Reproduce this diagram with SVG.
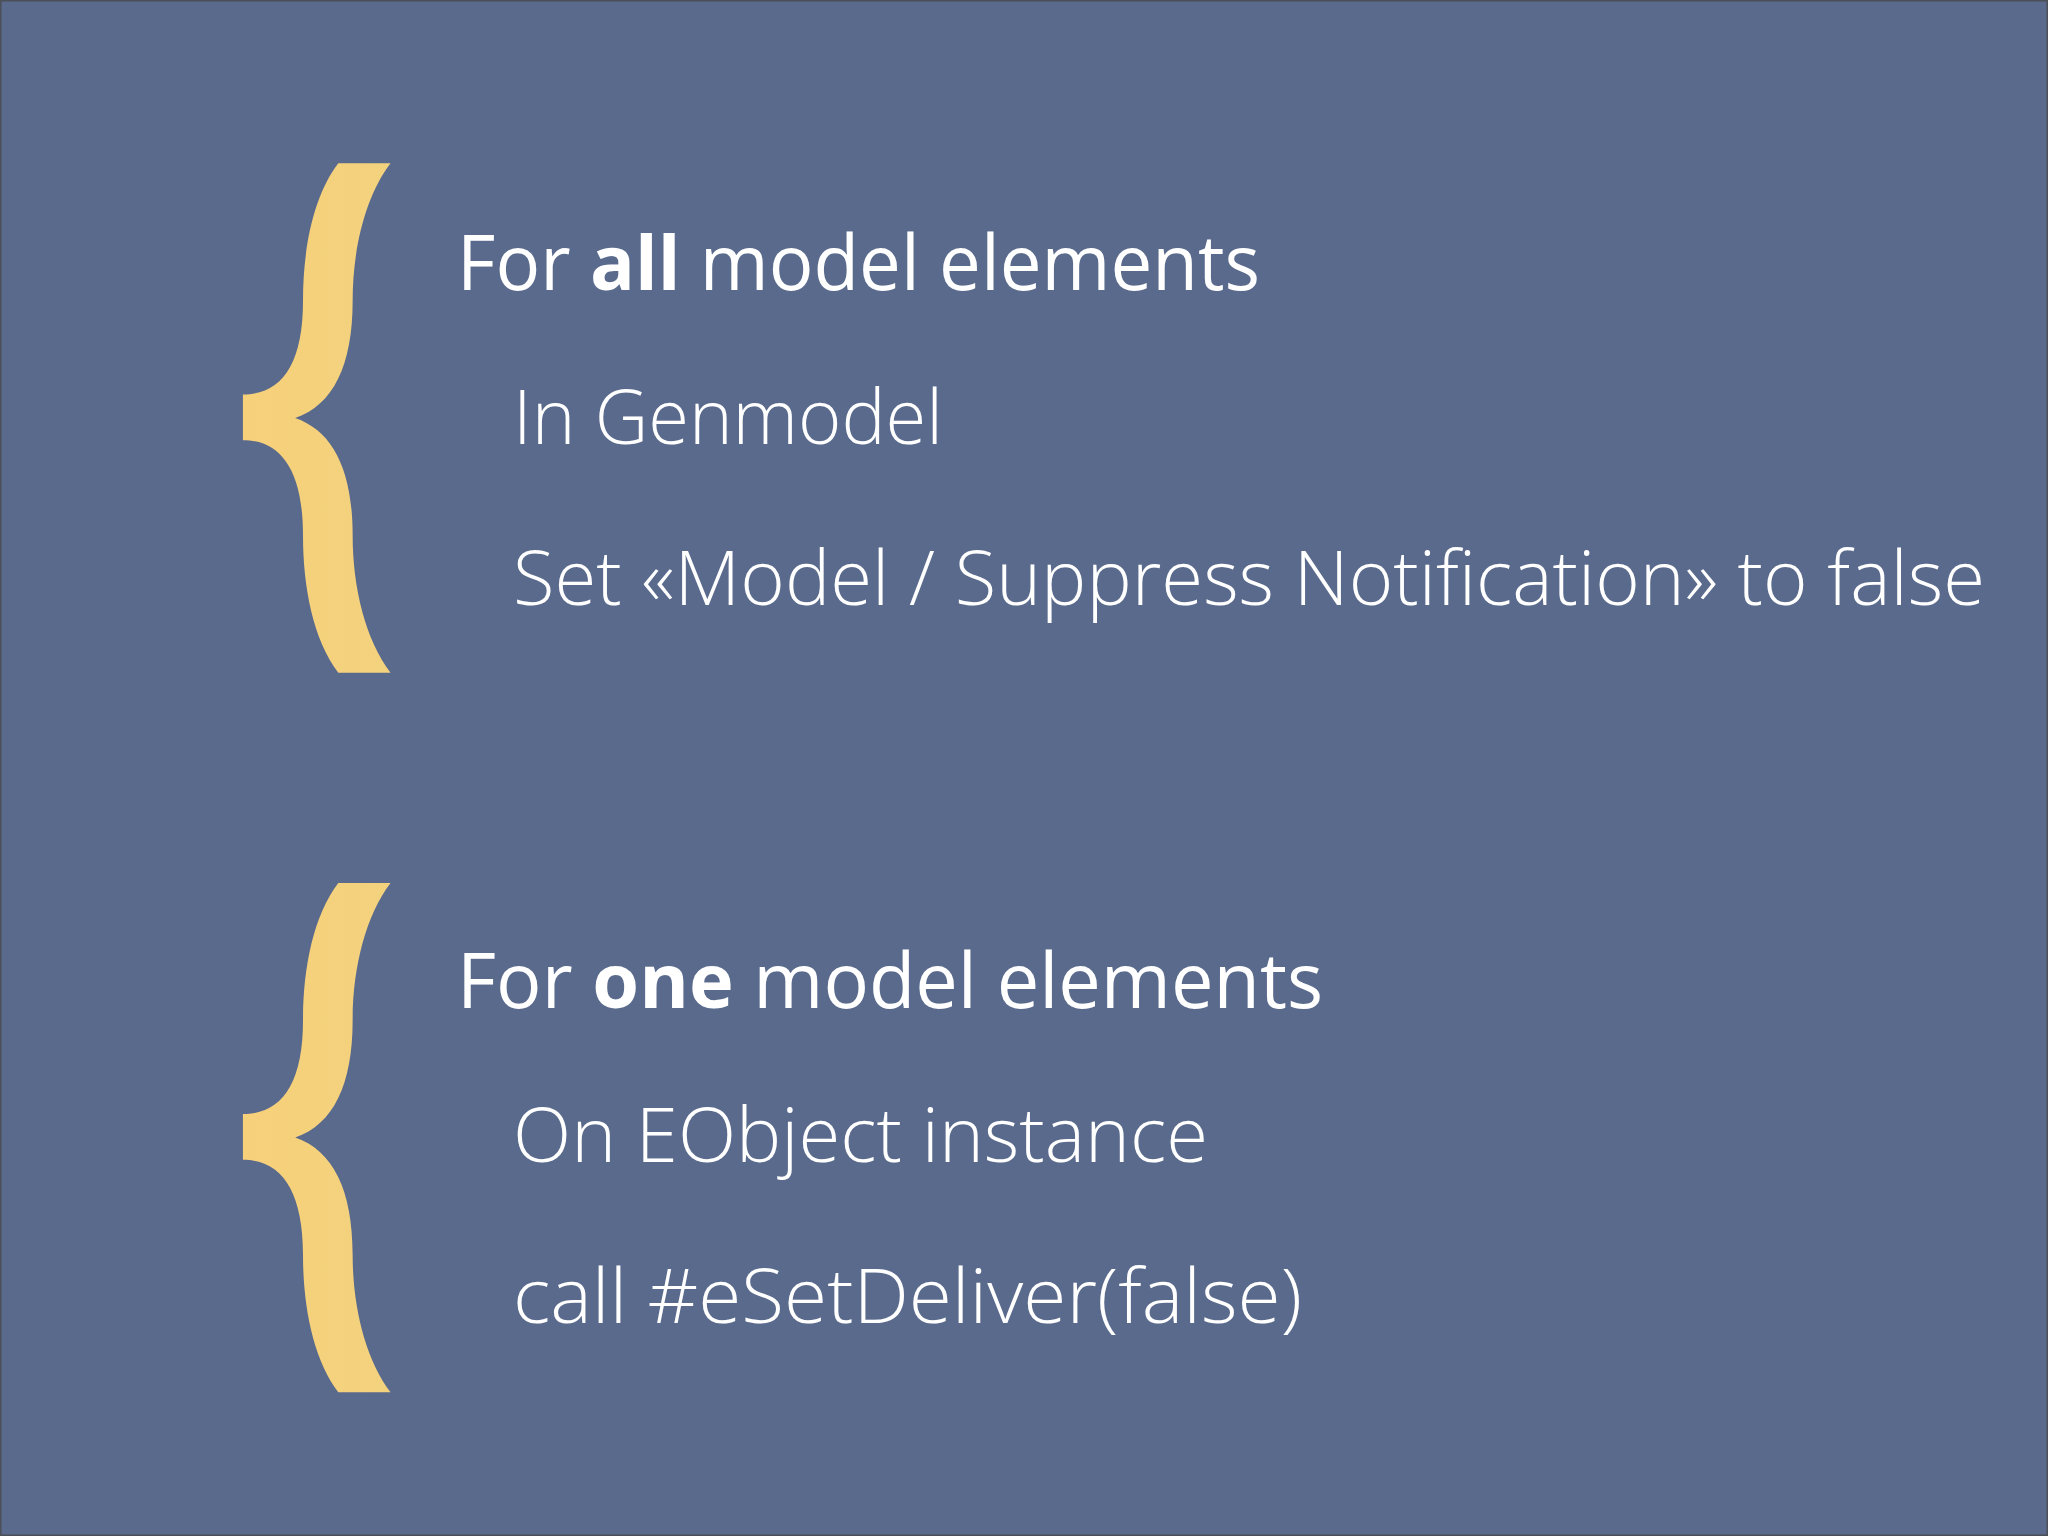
<svg xmlns="http://www.w3.org/2000/svg" width="2048" height="1536" viewBox="0 0 2048 1536">
<defs>
<linearGradient id="g" x1="0" y1="0" x2="1" y2="0"><stop offset="0" stop-color="#f7d07a"/><stop offset="1" stop-color="#f3d27e"/></linearGradient>
<path id="brace" d="M259,125 C240,150 232,190 232,230 C232,280 215,302 186,302 L186,337 C215,337 232,360 232,410 C232,450 240,490 259,515 L299,515 C280,490 270,450 270,410 C270,360 255,330 226,320 C255,310 270,280 270,230 C270,190 280,150 299,125 Z"/>
</defs>
<style>
.h{font-family:"Open Sans","Liberation Sans",sans-serif;font-size:76px;fill:#fff;font-weight:400}
.l{font-family:"Open Sans","Liberation Sans",sans-serif;font-size:76px;fill:#fff;font-weight:300}
.b{font-weight:700}
</style>
<rect x="0" y="0" width="2048" height="1536" fill="#5a6a8c" stroke="#4a4f58" stroke-width="3"/>
<g id="brace1" transform="scale(1.3061)"><use href="#brace" fill="url(#g)"/></g>
<g id="brace2" transform="scale(1.3061) translate(0,551)"><use href="#brace" fill="url(#g)"/></g>
<g id="block1">
<text class="h" x="457" y="290" textLength="803" lengthAdjust="spacingAndGlyphs">For <tspan class="b">all</tspan> model elements</text>
<text class="l" x="513" y="444" textLength="430" lengthAdjust="spacingAndGlyphs">In Genmodel</text>
<text class="l" x="513" y="605" textLength="1472" lengthAdjust="spacingAndGlyphs">Set «Model / Suppress Notification» to false</text>
</g>
<g id="block2">
<text class="h" x="457" y="1008" textLength="866" lengthAdjust="spacingAndGlyphs">For <tspan class="b">one</tspan> model elements</text>
<text class="l" x="513" y="1162" textLength="695" lengthAdjust="spacingAndGlyphs">On EObject instance</text>
<text class="l" x="513" y="1323" textLength="789" lengthAdjust="spacingAndGlyphs">call #eSetDeliver(false)</text>
</g>
<g id="connectors"/>
</svg>
